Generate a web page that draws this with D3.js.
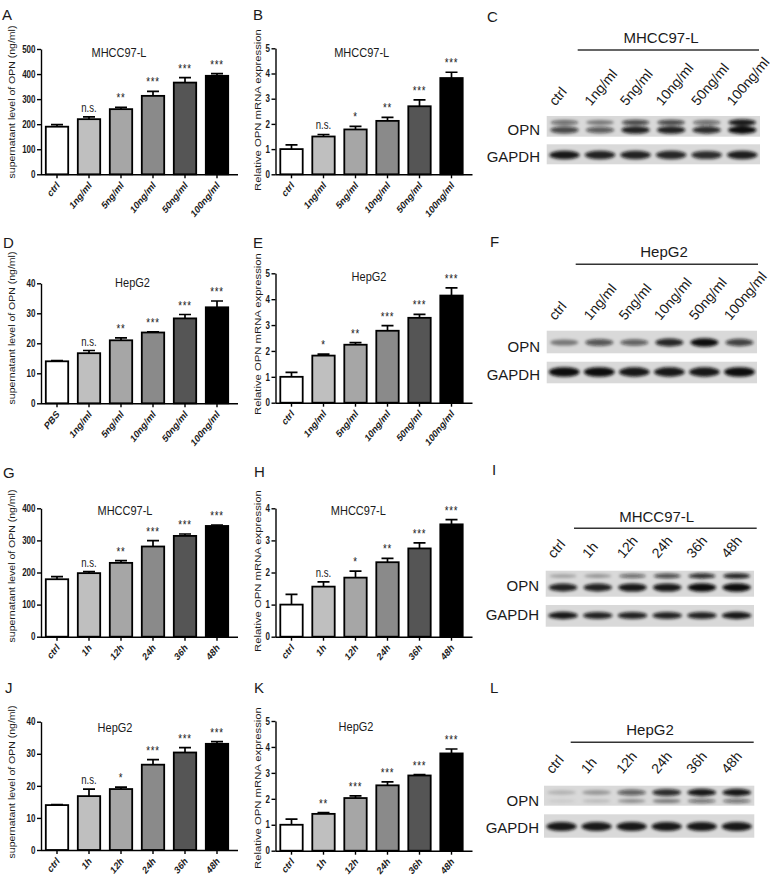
<!DOCTYPE html>
<html><head><meta charset="utf-8">
<script src="https://cdn.jsdelivr.net/npm/d3@7"></script>
<style>
body{margin:0;background:#fff}
svg{display:block}
text{font-family:"Liberation Sans",Arial,Helvetica,sans-serif;fill:#1a1a1a}
</style>
</head><body>
<svg id="fig" width="782" height="883"></svg>
<script>
// ---------------- DATA ----------------
const doseLabels    = ["ctrl","1ng/ml","5ng/ml","10ng/ml","50ng/ml","100ng/ml"];
const doseLabelsPBS = ["PBS","1ng/ml","5ng/ml","10ng/ml","50ng/ml","100ng/ml"];
const timeLabels    = ["ctrl","1h","12h","24h","36h","48h"];

const elisaTicks400 = [0,100,200,300,400];
const elisaTicks500 = [0,100,200,300,400,500];
const elisaTicks40  = [0,10,20,30,40];
const mrnaTicks5    = [0,1,2,3,4,5];
const mrnaTicks4    = [0,1,2,3,4];

// A
const elisaDose97L    = [190,220,260,313,366,393];
const elisaDose97LErr = [8,9,7,18,20,9];
const elisaDose97LSig = ["","n.s.","**","***","***","***"];
// B
const mrnaDose97L    = [1.0,1.5,1.78,2.12,2.7,3.82];
const mrnaDose97LErr = [0.17,0.08,0.12,0.14,0.25,0.23];
const mrnaDose97LSig = ["","n.s.","*","**","***","***"];
// D
const elisaDoseHepG2    = [14.0,16.7,21.0,23.6,28.3,32.0];
const elisaDoseHepG2Err = [0.2,0.9,0.8,0.2,1.3,2.1];
const elisaDoseHepG2Sig = ["","n.s.","**","***","***","***"];
// E
const mrnaDoseHepG2    = [1.0,1.82,2.24,2.78,3.28,4.14];
const mrnaDoseHepG2Err = [0.17,0.06,0.08,0.2,0.13,0.3];
const mrnaDoseHepG2Sig = ["","*","**","***","***","***"];
// G
const elisaTime97L    = [179,198,230,281,314,345];
const elisaTime97LErr = [8,5,7,18,6,3];
const elisaTime97LSig = ["","n.s.","**","***","***","***"];
// H
const mrnaTime97L    = [1.0,1.56,1.84,2.32,2.75,3.5];
const mrnaTime97LErr = [0.32,0.15,0.2,0.12,0.17,0.15];
const mrnaTime97LSig = ["","n.s.","*","**","***","***"];
// J
const elisaTimeHepG2    = [14.0,16.8,19.0,26.6,30.4,33.1];
const elisaTimeHepG2Err = [0.15,2.2,0.6,1.6,1.5,0.7];
const elisaTimeHepG2Sig = ["","n.s.","*","***","***","***"];
// K
const mrnaTimeHepG2    = [1.0,1.42,2.03,2.52,2.9,3.75];
const mrnaTimeHepG2Err = [0.22,0.05,0.08,0.13,0.03,0.17];
const mrnaTimeHepG2Sig = ["","**","***","***","***","***"];

// Western blot band intensities (0..1)
const blotDose97L_OPNupper = [0.55,0.45,0.72,0.72,0.55,0.95];
const blotDose97L_OPNlower = [0.72,0.62,0.9,0.9,0.85,1.0];
const blotDose97L_GAPDH    = [0.95,0.9,0.9,0.88,0.85,0.92];
const blotDoseHepG2_OPN    = [0.45,0.65,0.6,0.88,1.0,0.75];
const blotDoseHepG2_GAPDH  = [1.0,1.0,0.95,0.95,0.95,1.0];
const blotTime97L_OPNupper = [0.28,0.32,0.55,0.7,0.85,0.9];
const blotTime97L_OPNlower = [0.9,0.9,0.95,0.95,1.0,1.0];
const blotTime97L_GAPDH    = [0.95,0.9,0.9,0.9,0.9,0.95];
const blotTimeHepG2_OPNupper = [0.18,0.3,0.6,0.85,0.95,0.95];
const blotTimeHepG2_OPNlower = [0.08,0.15,0.35,0.45,0.5,0.5];
const blotTimeHepG2_GAPDH    = [0.95,0.95,0.95,0.95,0.95,0.95];

const barFills = ["#ffffff","#bfbfbf","#a6a6a6","#8a8a8a","#555555","#000000"];
const elisaLabel = "supernatant level of OPN (ng/ml)";
const mrnaLabel  = "Relative OPN mRNA expression";

// ---------------- DRAWING ----------------
const FONT = '"Liberation Sans",Arial,Helvetica,sans-serif';
const svg = d3.select("#fig");
const defs = svg.append("defs");
defs.append("filter").attr("id","blur").attr("x","-50%").attr("y","-150%").attr("width","200%").attr("height","400%")
  .append("feGaussianBlur").attr("stdDeviation",1.4);

const SX = 0.8; // horizontal squeeze of chart text

function barChart(p) {
  const g = svg.append("g");
  const x = d3.scaleBand().domain(p.cats).range([p.ax, p.ax + 192]).paddingInner(0.3).paddingOuter(0.15);
  const y = d3.scaleLinear().domain([0, p.ymax]).range([p.y0, p.yTop]);
  const rows = p.cats.map((c,i)=>({c, v:p.vals[i], e:p.errs[i], s:p.sig[i], f:barFills[i]}));
  const cx = d => x(d.c) + x.bandwidth()/2;

  g.selectAll(".eb").data(rows).join("path").attr("class","eb")
    .attr("d", d => `M${cx(d)},${y(d.v)}V${y(d.v+d.e)}M${cx(d)-6},${y(d.v+d.e)}H${cx(d)+6}`)
    .attr("stroke","#000").attr("stroke-width",1.7).attr("fill","none");
  g.selectAll(".bar").data(rows).join("rect").attr("class","bar")
    .attr("x", d => x(d.c)).attr("y", d => y(d.v))
    .attr("width", x.bandwidth()).attr("height", d => y(0) - y(d.v))
    .attr("fill", d => d.f).attr("stroke","#000").attr("stroke-width",1.8);

  // y axis
  const ya = g.append("g").attr("transform",`translate(${p.ax},0)`)
    .call(d3.axisLeft(y).tickValues(p.ticks).tickFormat(d3.format("d")).tickSize(4).tickSizeOuter(0).tickPadding(2));
  ya.attr("font-family",FONT).attr("font-size",10).attr("font-weight","bold");
  ya.select(".domain").attr("stroke","#000").attr("stroke-width",1.4);
  ya.selectAll(".tick line").attr("stroke","#000").attr("stroke-width",1.4);
  ya.selectAll(".tick text").attr("x",-5.5/SX).attr("transform",`scale(${SX},1)`);

  // x axis
  const xa = g.append("g").attr("transform",`translate(0,${p.y0})`)
    .call(d3.axisBottom(x).tickSize(4).tickSizeOuter(0));
  xa.select(".domain").remove();
  xa.attr("font-family",FONT).attr("font-size",10.5).attr("font-weight","bold");
  xa.selectAll(".tick line").attr("stroke","#000").attr("stroke-width",1.4);
  xa.selectAll(".tick text").attr("x",0).attr("y",0).attr("dy","0.35em")
    .attr("text-anchor","end").attr("transform",`translate(1,9) scale(${SX},1) rotate(-45)`);
  g.append("line").attr("x1",p.ax).attr("x2",p.ax+197).attr("y1",p.y0+0.5).attr("y2",p.y0+0.5)
    .attr("stroke","#000").attr("stroke-width",1.4);

  // significance
  g.selectAll(".sig").data(rows.filter(d=>d.s)).join("text").attr("class","sig")
    .attr("transform", d => `translate(${cx(d)},${y(d.v+d.e)-5}) scale(${SX},1)`)
    .attr("text-anchor","middle")
    .attr("font-size", 12)
    .attr("letter-spacing", d => d.s === "n.s." ? 0 : 1)
    .text(d => d.s);

  // title
  g.append("text").attr("transform",`translate(${p.tx},${p.ty}) scale(0.88,1)`)
    .attr("text-anchor","middle").attr("font-size",12.5).text(p.title);
  // y label
  g.append("text").attr("transform",`translate(${p.lx},${p.ly}) scale(${SX},1) rotate(-90)`)
    .attr("text-anchor","middle").attr("dy","0.35em").attr("font-size",p.lfs).text(p.ylab);
}

const L = 41, M = 275.5;
barChart({cats:doseLabels, vals:elisaDose97L, errs:elisaDose97LErr, sig:elisaDose97LSig, ymax:500, ticks:elisaTicks500,
  ax:L, y0:174.3, yTop:49, title:"MHCC97-L", tx:119, ty:56.5, ylab:elisaLabel, lx:12, ly:102, lfs:10.5});
barChart({cats:doseLabels, vals:mrnaDose97L, errs:mrnaDose97LErr, sig:mrnaDose97LSig, ymax:5, ticks:mrnaTicks5,
  ax:M, y0:174.3, yTop:48.3, title:"MHCC97-L", tx:361.7, ty:56.5, ylab:mrnaLabel, lx:258, ly:110, lfs:11.3});
barChart({cats:doseLabelsPBS, vals:elisaDoseHepG2, errs:elisaDoseHepG2Err, sig:elisaDoseHepG2Sig, ymax:40, ticks:elisaTicks40,
  ax:L, y0:403.3, yTop:283.3, title:"HepG2", tx:132.5, ty:286.7, ylab:elisaLabel, lx:12, ly:328, lfs:10.5});
barChart({cats:doseLabels, vals:mrnaDoseHepG2, errs:mrnaDoseHepG2Err, sig:mrnaDoseHepG2Sig, ymax:5, ticks:mrnaTicks5,
  ax:M, y0:402.7, yTop:273.3, title:"HepG2", tx:369, ty:280.5, ylab:mrnaLabel, lx:258, ly:334, lfs:11.3});
barChart({cats:timeLabels, vals:elisaTime97L, errs:elisaTime97LErr, sig:elisaTime97LSig, ymax:400, ticks:elisaTicks400,
  ax:L, y0:636.7, yTop:508.3, title:"MHCC97-L", tx:125, ty:515, ylab:elisaLabel, lx:12, ly:566, lfs:10.5});
barChart({cats:timeLabels, vals:mrnaTime97L, errs:mrnaTime97LErr, sig:mrnaTime97LSig, ymax:4, ticks:mrnaTicks4,
  ax:M, y0:636.7, yTop:508.3, title:"MHCC97-L", tx:358.3, ty:515, ylab:mrnaLabel, lx:258, ly:571, lfs:11.3});
barChart({cats:timeLabels, vals:elisaTimeHepG2, errs:elisaTimeHepG2Err, sig:elisaTimeHepG2Sig, ymax:40, ticks:elisaTicks40,
  ax:L, y0:850, yTop:721.7, title:"HepG2", tx:115, ty:732, ylab:elisaLabel, lx:12, ly:782, lfs:10.5});
barChart({cats:timeLabels, vals:mrnaTimeHepG2, errs:mrnaTimeHepG2Err, sig:mrnaTimeHepG2Sig, ymax:5, ticks:mrnaTicks5,
  ax:M, y0:850.7, yTop:721, title:"HepG2", tx:356, ty:731, ylab:mrnaLabel, lx:258, ly:788, lfs:11.3});

// ---------------- BLOTS ----------------
let clipId = 0;
function blot(b) {
  const g = svg.append("g");
  const lane = d3.scaleBand().domain(b.lanes).range([b.x0, b.x1]);
  const lc = l => lane(l) + lane.bandwidth()/2;
  g.append("text").attr("x",b.tx).attr("y",b.ty).attr("text-anchor","middle").attr("font-size",15).text(b.title);
  g.append("line").attr("x1",b.line[0]).attr("x2",b.line[1]).attr("y1",b.line[2]).attr("y2",b.line[2])
    .attr("stroke","#333").attr("stroke-width",1.6);
  g.selectAll(".lane").data(b.lanes).join("text").attr("class","lane")
    .attr("transform", d => `translate(${lc(d)-9},${b.labelY}) rotate(-50)`)
    .attr("font-size",14).text(d => d);
  b.rows.forEach(r => {
    const id = "clip" + (clipId++);
    g.append("clipPath").attr("id",id).append("rect")
      .attr("x",b.x0).attr("y",r.top).attr("width",b.x1-b.x0).attr("height",r.bot-r.top);
    g.append("rect").attr("x",b.x0).attr("y",r.top).attr("width",b.x1-b.x0).attr("height",r.bot-r.top)
      .attr("fill","#d9d9d9");
    const bg = g.append("g").attr("clip-path",`url(#${id})`).append("g").attr("filter","url(#blur)");
    r.bands.forEach(bd => {
      bg.selectAll(null).data(b.lanes.map((l,i)=>({l, v:bd.vals[i]}))).join("ellipse")
        .attr("cx", d => lc(d.l)).attr("cy", bd.cy)
        .attr("rx", lane.bandwidth()*bd.w/2).attr("ry", d => bd.ry*(0.55+0.55*d.v))
        .attr("fill","#0d0d0d").attr("opacity", d => Math.min(1, d.v));
    });
    g.append("text").attr("x",b.labX).attr("y",r.labelY).attr("text-anchor","end").attr("font-size",15).text(r.name);
  });
}

blot({lanes:doseLabels, x0:546.7, x1:760, title:"MHCC97-L", tx:661, ty:43.3, line:[577.7,759,50], labelY:106.5, labX:540,
  rows:[{name:"OPN", top:116, bot:136.7, labelY:135,
          bands:[{cy:122.5, ry:3.0, w:0.78, vals:blotDose97L_OPNupper},{cy:130, ry:3.6, w:0.8, vals:blotDose97L_OPNlower}]},
        {name:"GAPDH", top:144.3, bot:164.3, labelY:161.5,
          bands:[{cy:155, ry:4.0, w:0.86, vals:blotDose97L_GAPDH}]}]});
blot({lanes:doseLabels, x0:546.7, x1:757, title:"HepG2", tx:664, ty:256.5, line:[575.7,758,264.3], labelY:321, labX:540,
  rows:[{name:"OPN", top:330.7, bot:353.3, labelY:351.5,
          bands:[{cy:342.5, ry:3.8, w:0.8, vals:blotDoseHepG2_OPN}]},
        {name:"GAPDH", top:361.7, bot:383.3, labelY:380,
          bands:[{cy:372, ry:4.4, w:0.88, vals:blotDoseHepG2_GAPDH}]}]});
blot({lanes:timeLabels, x0:545.7, x1:754, title:"MHCC97-L", tx:656.7, ty:521.7, line:[574,756.7,528.3], labelY:559, labX:539,
  rows:[{name:"OPN", top:570.7, bot:596.7, labelY:590.5,
          bands:[{cy:576, ry:2.6, w:0.78, vals:blotTime97L_OPNupper},{cy:587.5, ry:3.8, w:0.82, vals:blotTime97L_OPNlower}]},
        {name:"GAPDH", top:605, bot:626.7, labelY:620,
          bands:[{cy:615.5, ry:3.4, w:0.85, vals:blotTime97L_GAPDH}]}]});
blot({lanes:timeLabels, x0:544, x1:754.3, title:"HepG2", tx:650, ty:735, line:[570.7,753.7,742.3], labelY:774.5, labX:539,
  rows:[{name:"OPN", top:785.7, bot:805.7, labelY:806,
          bands:[{cy:792.5, ry:3.4, w:0.82, vals:blotTimeHepG2_OPNupper},{cy:801, ry:2.6, w:0.8, vals:blotTimeHepG2_OPNlower}]},
        {name:"GAPDH", top:814.3, bot:837.7, labelY:833,
          bands:[{cy:826.5, ry:4.2, w:0.86, vals:blotTimeHepG2_GAPDH}]}]});

// ---------------- PANEL LETTERS ----------------
const panelLetters = ["A","B","C","D","E","F","G","H","I","J","K","L"];
const letterPos = [[2,20],[253,20],[487,22],[3,248],[253,248],[490,247],[3,478],[254,477],[492,475],[5,693],[254,693],[490,693]];
svg.selectAll(".plet").data(panelLetters).join("text").attr("class","plet")
  .attr("x",(d,i)=>letterPos[i][0]).attr("y",(d,i)=>letterPos[i][1]).attr("font-size",15).text(d=>d);
</script>
</body></html>
